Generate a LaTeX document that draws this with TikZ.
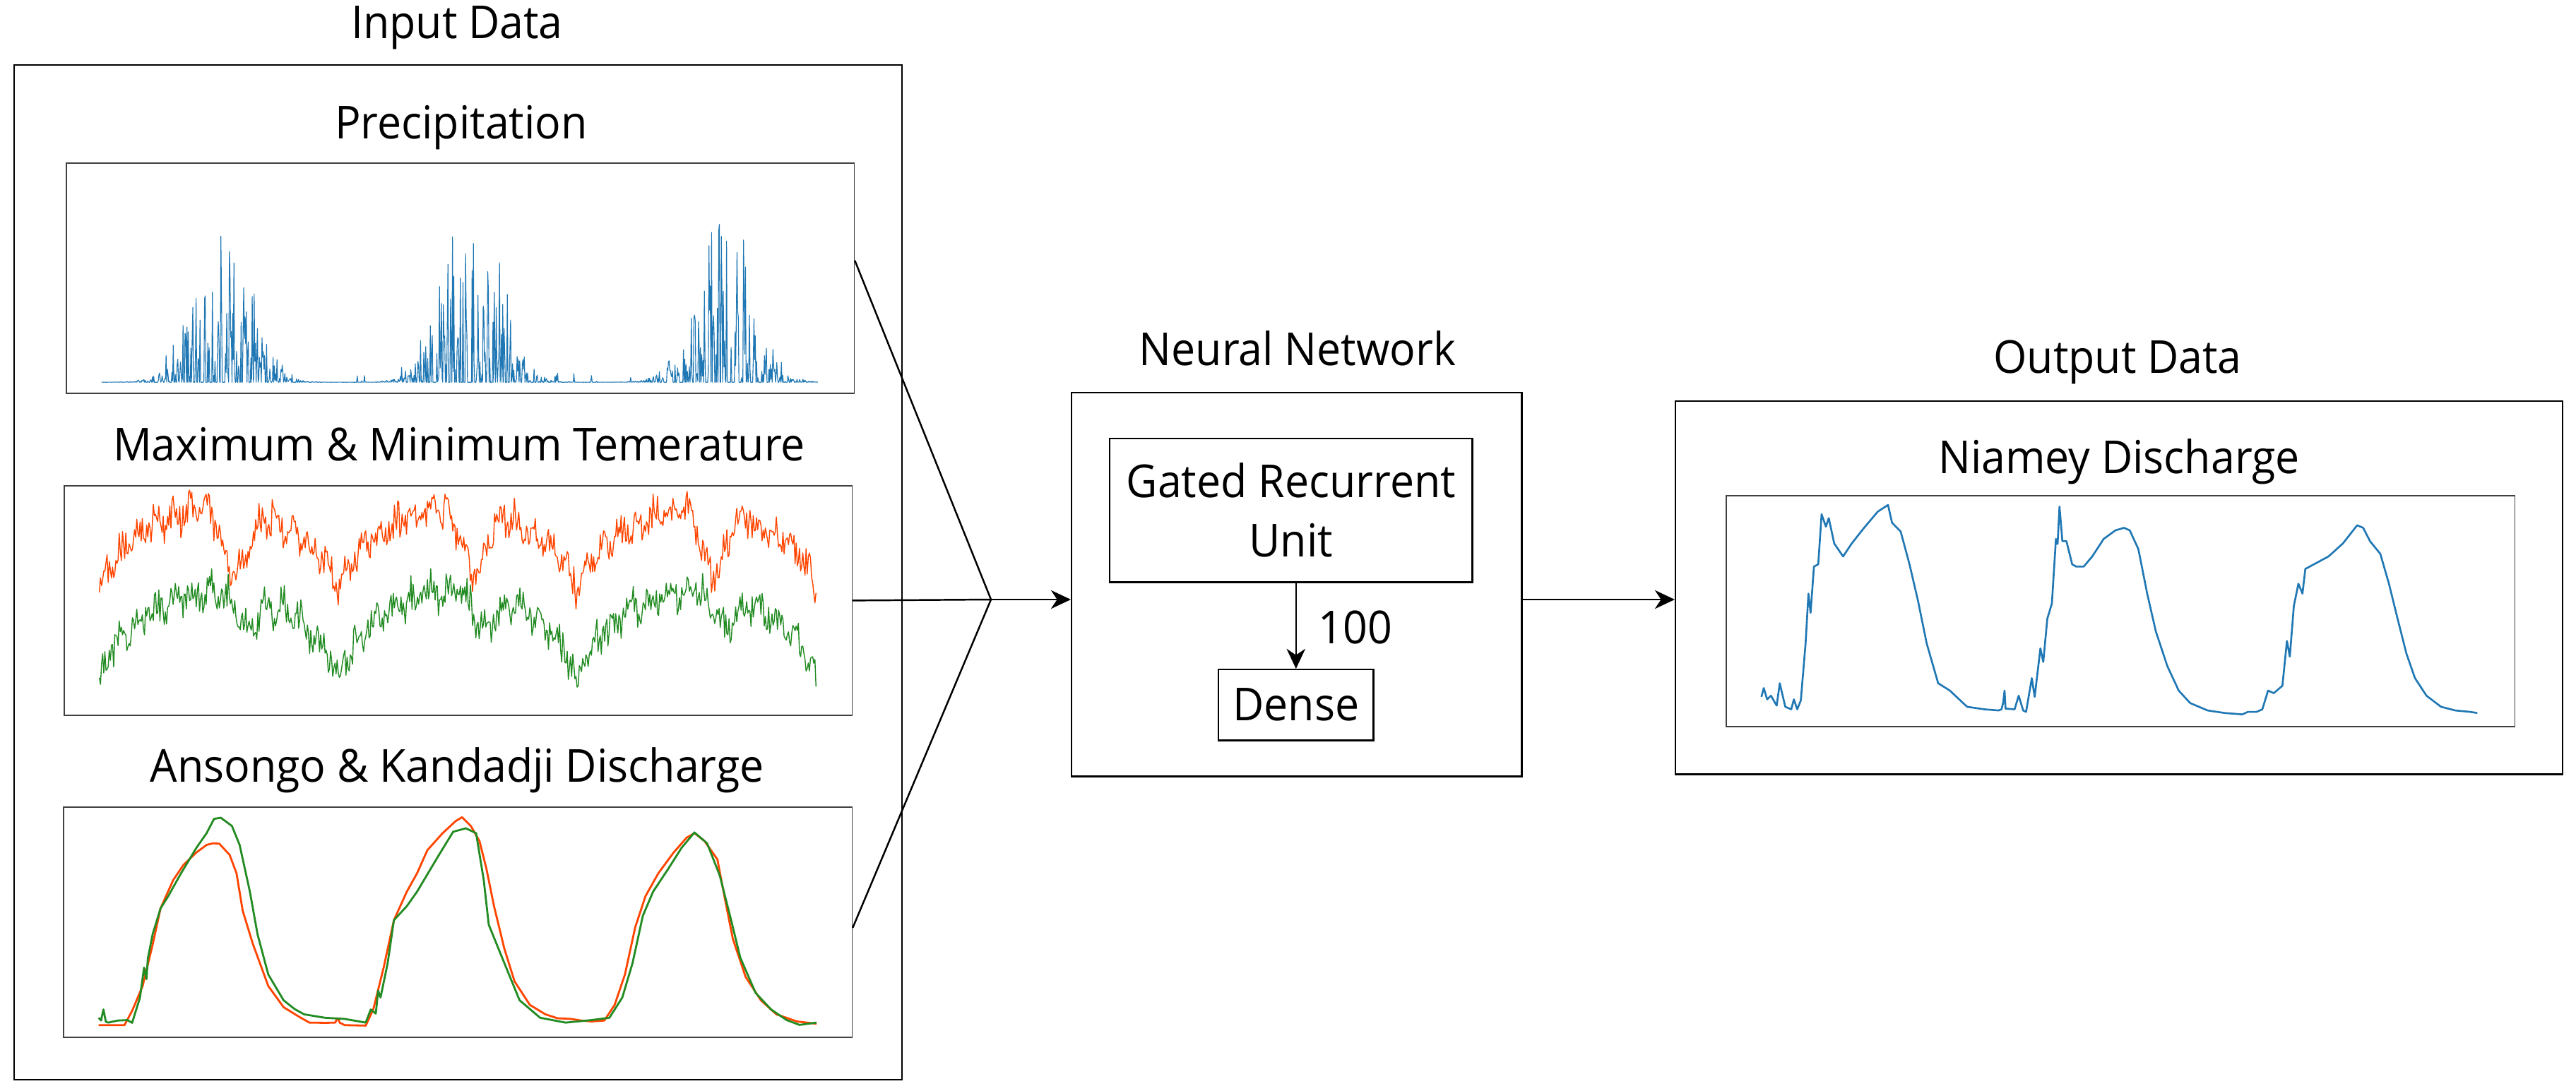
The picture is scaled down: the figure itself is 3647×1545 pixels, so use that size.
\documentclass[tikz,border=0pt]{standalone}
\usepackage{fontspec}
\setmainfont{Open Sans}[FakeStretch=0.945]
\usetikzlibrary{arrows.meta}
\definecolor{mplblue}{HTML}{1F77B4}
\definecolor{mplorange}{HTML}{FF4500}
\definecolor{mplgreen}{HTML}{228B22}
\tikzset{
  box/.style={draw=black, line width=0.7pt, inner sep=0pt, anchor=north west},
  pframe/.style={draw=black!75, line width=0.45pt, inner sep=0pt, anchor=north west},
  lbl/.style={anchor=base, inner sep=0pt, font=\fontsize{18.3pt}{23.9pt}\selectfont},
  conn/.style={line width=0.7pt},
  arr/.style={conn, -{Stealth[length=8pt,width=7.5pt,inset=2.5pt]}},
  pcp/.style={mplblue, line width=0.32pt, line join=round},
  tmx/.style={mplorange, line width=0.4pt, line join=round},
  tmn/.style={mplgreen, line width=0.4pt, line join=round},
  dis/.style={line width=0.8pt, line join=round},
}
\begin{document}
\begin{tikzpicture}[x=0.01cm, y=-0.01cm,
  declare function={
    G(\t,\c,\s)=exp(-min(((\t-\c)/\s)*((\t-\c)/\s),15));
    bell(\t)=sqrt(abs(sin(180*\t)));
  }]
\useasboundingbox (0,0) rectangle (3647,1545);
\pgfmathsetseed{12345}

% ---------- Input block ----------
\node[box, minimum width=12.56cm, minimum height=14.36cm] (inp) at (19,91) {};
\node[lbl] (tin) at (647,54) {Input Data};

\node[pframe, minimum width=11.15cm, minimum height=3.26cm] (pf) at (93,230) {};
\node[lbl] (tp) at (653,196) {Precipitation};

\node[pframe, minimum width=11.15cm, minimum height=3.25cm] (tf) at (90,687) {};
\node[lbl] (tt) at (650,652) {Maximum \& Minimum Temerature};

\node[pframe, minimum width=11.16cm, minimum height=3.26cm] (df) at (89,1142) {};
\node[lbl] (td) at (647,1107) {Ansongo \& Kandadji Discharge};

% precipitation curve
\begin{scope}[shift={(143.7,556)}, xscale=338.2, yscale=-326]
\draw[pcp] plot[domain=0:3, samples=1096, variable=\q]
  (\q, {0.0455 + (0.86+0.06*(\q>1)*(\q<2))*G(mod(\q,1),0.5+0.05*floor(\q),0.15)^0.8*(rnd<0.55)*rnd*sqrt(rnd)
        + 0.04*(rnd<0.025)*rnd});
\end{scope}

% temperature curves
\begin{scope}[shift={(140.7,1012)}, xscale=338.2, yscale=-325]
\draw[tmx] plot[domain=0:3, samples=650, variable=\q]
  (\q, {0.5 + 0.4*bell(mod(\q,1)) - 0.28*G(mod(\q,1),0.57,0.07)
        + 0.035*sin(5000*\q) + 0.025*sin(mod(\q,0.5)*13000*2+40) + 0.11*(rnd-0.5)});
\draw[tmn] plot[domain=0:3, samples=650, variable=\q]
  (\q, {0.1 + 0.44*bell(mod(\q,1)) - 0.14*G(mod(\q,1),0.62,0.07)
        + 0.035*sin(4700*\q+70) + 0.025*sin(mod(\q,0.5)*13000*2+130) + 0.11*(rnd-0.5)});
\end{scope}

% discharge curves
\begin{scope}[shift={(139.7,1468)}, xscale=338.2, yscale=-326]
\draw[dis, mplorange] plot coordinates {
 (0,.05) (.108,.05) (.14,.112) (.184,.22) (.226,.40) (.259,.557) (.312,.68) (.355,.746)
 (.409,.80) (.452,.833) (.48,.84) (.505,.838) (.548,.79) (.577,.71) (.603,.547) (.645,.404)
 (.71,.22) (.774,.128) (.838,.087) (.882,.061) (.95,.06) (.99,.061) (1.0,.08) (1.01,.06)
 (1.03,.05) (1.118,.048) (1.15,.12) (1.193,.30) (1.236,.506) (1.29,.63) (1.333,.71)
 (1.376,.81) (1.44,.884) (1.494,.936) (1.521,.953) (1.558,.915) (1.594,.85) (1.623,.73)
 (1.655,.567) (1.698,.383) (1.741,.24) (1.805,.138) (1.87,.097) (1.92,.08) (1.977,.077)
 (2.02,.07) (2.063,.066) (2.117,.07) (2.16,.138) (2.203,.27) (2.246,.475) (2.289,.61)
 (2.343,.71) (2.407,.80) (2.461,.864) (2.494,.884) (2.536,.85) (2.59,.77) (2.622,.596)
 (2.655,.424) (2.708,.26) (2.772,.158) (2.837,.097) (2.923,.066) (3.005,.056)};
\draw[dis, mplgreen] plot coordinates {
 (0,.082) (.01,.07) (.02,.118) (.03,.065) (.04,.061) (.08,.07) (.12,.072) (.14,.06)
 (.173,.17) (.19,.3) (.2,.25) (.206,.34) (.226,.445) (.259,.557) (.291,.61) (.345,.71)
 (.409,.82) (.452,.884) (.483,.946) (.511,.951) (.558,.915) (.59,.833) (.633,.63)
 (.665,.445) (.71,.27) (.774,.158) (.82,.12) (.86,.097) (.947,.082) (1.03,.077)
 (1.118,.061) (1.139,.118) (1.16,.1) (1.17,.2) (1.18,.17) (1.21,.32) (1.236,.506)
 (1.29,.567) (1.333,.63) (1.419,.78) (1.484,.89) (1.537,.905) (1.58,.884) (1.612,.68)
 (1.633,.486) (1.698,.32) (1.762,.158) (1.848,.082) (1.955,.061) (2.063,.072) (2.138,.082)
 (2.192,.17) (2.235,.32) (2.278,.525) (2.321,.63) (2.385,.73) (2.44,.82) (2.494,.887)
 (2.547,.84) (2.6,.70) (2.643,.525) (2.686,.343) (2.75,.19) (2.815,.118) (2.88,.072)
 (2.934,.051) (3.005,.061)};
\end{scope}

% ---------- Neural network ----------
\node[box, minimum width=6.37cm, minimum height=5.43cm] (nn) at (1516,555) {};
\node[lbl] (tnn) at (1837,517) {Neural Network};
\node[box, minimum width=5.13cm, minimum height=2.03cm, align=center,
      font=\fontsize{18.3pt}{23.9pt}\selectfont] (gru) at (1570,620) {Gated Recurrent\\Unit};
\node[box, minimum width=2.19cm, minimum height=1.0cm,
      font=\fontsize{18.3pt}{23.9pt}\selectfont] (dense) at (1724,947) {Dense};
\node[lbl, anchor=base west] (l100) at (1866,911) {100};

% ---------- Output ----------
\node[box, minimum width=12.55cm, minimum height=5.28cm] (out) at (2371,567) {};
\node[lbl] (tout) at (2998,528) {Output Data};
\node[pframe, minimum width=11.16cm, minimum height=3.27cm] (nf) at (2443,701) {};
\node[lbl] (tni) at (3000,670) {Niamey Discharge};

\begin{scope}[shift={(2493.7,1028)}, xscale=338.2, yscale=-327]
\draw[dis, mplblue, line width=0.75pt] plot coordinates {
 (0,.126) (.01,.164) (.024,.115) (.04,.131) (.064,.088) (.077,.185) (.1,.083) (.125,.072)
 (.136,.115) (.15,.072) (.165,.11) (.185,.357) (.197,.573) (.206,.49) (.22,.69) (.238,.70)
 (.252,.917) (.27,.863) (.282,.90) (.305,.79) (.342,.734) (.378,.79) (.426,.853) (.487,.928)
 (.53,.957) (.547,.88) (.583,.842) (.62,.70) (.656,.54) (.692,.357) (.74,.185) (.789,.153)
 (.861,.083) (.933,.072) (.993,.067) (1.005,.072) (1.012,.1) (1.018,.153) (1.022,.075)
 (1.06,.072) (1.077,.131) (1.096,.067) (1.108,.061) (1.132,.207) (1.144,.126) (1.168,.336)
 (1.18,.277) (1.197,.465) (1.216,.53) (1.233,.81) (1.24,.788) (1.248,.95) (1.26,.80)
 (1.277,.80) (1.301,.70) (1.318,.69) (1.349,.69) (1.385,.734) (1.433,.81) (1.482,.847)
 (1.518,.858) (1.542,.847) (1.578,.766) (1.615,.573) (1.651,.41) (1.699,.26) (1.747,.153)
 (1.795,.099) (1.868,.067) (1.94,.056) (2.013,.05) (2.037,.061) (2.073,.061) (2.097,.072)
 (2.121,.153) (2.145,.142) (2.181,.174) (2.2,.368) (2.212,.3) (2.229,.52) (2.248,.616)
 (2.265,.573) (2.277,.68) (2.313,.70) (2.374,.734) (2.434,.79) (2.494,.869) (2.519,.858)
 (2.548,.80) (2.591,.745) (2.627,.616) (2.663,.465) (2.7,.314) (2.736,.207) (2.784,.131)
 (2.845,.083) (2.905,.067) (2.966,.061) (2.997,.056)};
\end{scope}

% ---------- Connectors ----------
\coordinate (j) at (1403,849);
\draw[conn] ([yshift=0.25cm]pf.east) -- (j);
\draw[conn] (tf.east) -- (j);
\draw[conn] ([yshift=-0.08cm]df.east) -- (j);
\draw[arr] (j) -- (j -| nn.west);
\draw[arr] (nn.east |- j) -- (j -| out.west);
\draw[arr] (gru.south -| dense.north) -- (dense.north);
\end{tikzpicture}
\end{document}
